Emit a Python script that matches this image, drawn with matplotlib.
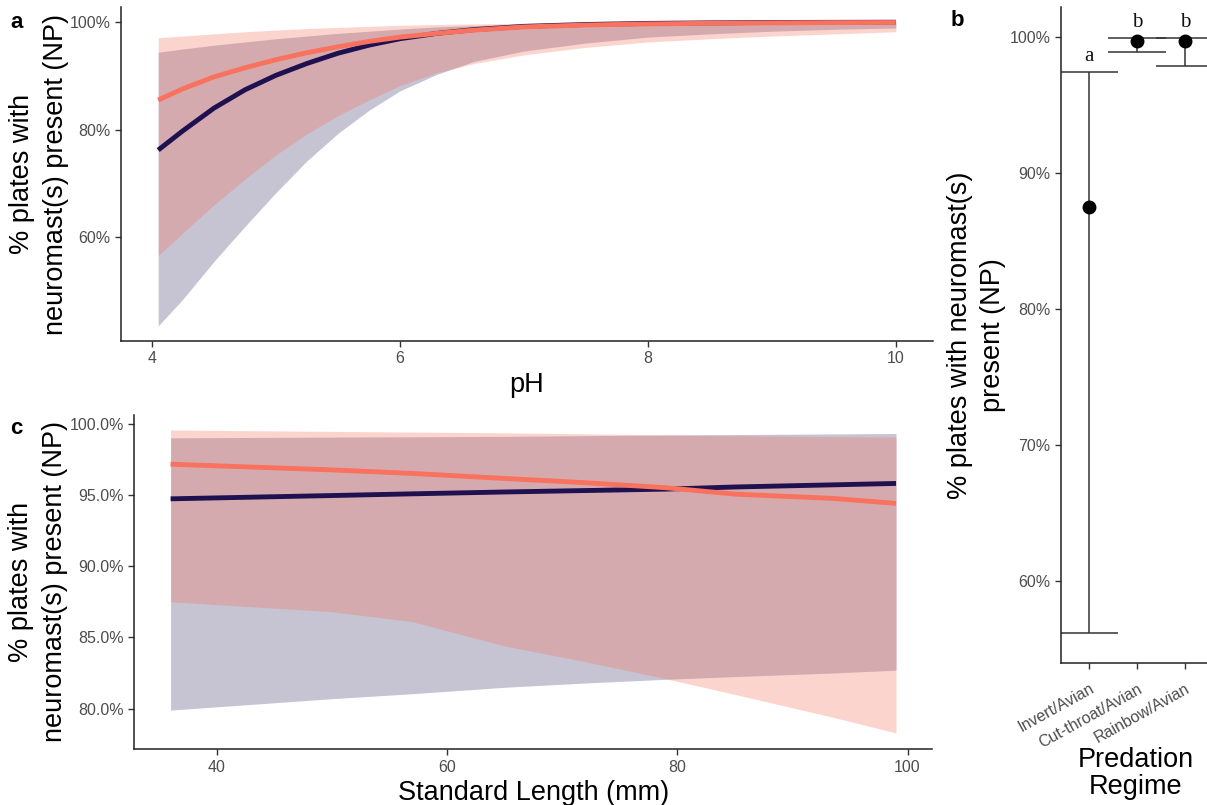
import matplotlib
matplotlib.use("Agg")
import matplotlib.pyplot as plt
from matplotlib.ticker import FuncFormatter
import numpy as np

plt.rcParams['font.family'] = ['Liberation Sans', 'DejaVu Sans']

# ---------------- Panel a data (pH) ----------------
ph = [4.05, 4.25, 4.5, 4.75, 5.0, 5.25, 5.5, 5.75, 6.0, 6.3, 6.6, 7.0, 7.5, 8.0, 8.5, 9.0, 9.5, 10.0]
ph_navy = [76.2, 79.8, 84.0, 87.4, 90.1, 92.3, 94.2, 95.7, 96.9, 97.9, 98.6, 99.2, 99.55, 99.75, 99.85, 99.92, 99.95, 99.97]
ph_navy_lo = [43.5, 48.5, 55.5, 62.0, 68.3, 74.2, 79.3, 83.6, 87.2, 90.3, 92.7, 94.6, 96.1, 97.2, 97.8, 98.3, 98.65, 98.9]
ph_navy_hi = [94.4, 95.0, 95.7, 96.3, 96.9, 97.4, 97.9, 98.3, 98.7, 99.1, 99.35, 99.6, 99.8, 99.9, 99.95, 99.97, 99.98, 99.99]
ph_coral = [85.5, 87.6, 89.8, 91.5, 93.0, 94.3, 95.4, 96.4, 97.2, 97.9, 98.5, 99.1, 99.45, 99.65, 99.78, 99.85, 99.9, 99.92]
ph_coral_lo = [56.6, 60.8, 66.0, 70.8, 75.3, 79.2, 82.6, 85.5, 88.2, 90.6, 92.3, 93.9, 95.3, 96.3, 96.9, 97.4, 97.8, 98.2]
ph_coral_hi = [97.1, 97.4, 97.8, 98.2, 98.5, 98.8, 99.0, 99.2, 99.4, 99.55, 99.65, 99.75, 99.85, 99.9, 99.93, 99.95, 99.96, 99.97]

# ---------------- Panel b data (predation regime) ----------------
regimes = ["Invert/Avian", "Cut-throat/Avian", "Rainbow/Avian"]
regime_est = [87.5, 99.68, 99.68]
regime_lo = [56.2, 98.9, 97.85]
regime_hi = [97.45, 99.93, 99.93]
regime_letters = ["a", "b", "b"]

# ---------------- Panel c data (standard length) ----------------
sl = [36, 50, 57, 65, 72, 79, 85, 93.5, 99]
sl_navy = [94.72, 94.95, 95.07, 95.2, 95.3, 95.4, 95.55, 95.7, 95.8]
sl_navy_lo = [79.9, 80.7, 81.05, 81.5, 81.8, 82.06, 82.25, 82.5, 82.7]
sl_navy_hi = [99.0, 99.05, 99.07, 99.1, 99.15, 99.2, 99.23, 99.27, 99.3]
sl_coral = [97.15, 96.75, 96.5, 96.15, 95.85, 95.5, 95.05, 94.75, 94.4]
sl_coral_lo = [87.5, 86.8, 86.1, 84.4, 83.3, 82.1, 81.0, 79.4, 78.3]
sl_coral_hi = [99.55, 99.45, 99.4, 99.35, 99.28, 99.2, 99.15, 99.08, 99.05]

NAVY = "#1f1150"
CORAL = "#f8725e"
TICK_C = "#4d4d4d"
W, H = 1207, 805

fig = plt.figure(figsize=(W / 100, H / 100), dpi=100)


def rect(l, r, t, b):
    return [l / W, 1 - b / H, (r - l) / W, (b - t) / H]


def style(ax):
    for s in ["top", "right"]:
        ax.spines[s].set_visible(False)
    for s in ["left", "bottom"]:
        ax.spines[s].set_linewidth(1.1)
        ax.spines[s].set_color("#222222")
    ax.tick_params(axis="both", colors="#333333", labelcolor=TICK_C,
                   labelsize=11.5, length=4, width=1.0)


# ---- panel a ----
axa = fig.add_axes(rect(121, 933, 7, 341))
style(axa)
axa.fill_between(ph, ph_navy_lo, ph_navy_hi, color=NAVY, alpha=0.25, lw=0)
axa.fill_between(ph, ph_coral_lo, ph_coral_hi, color=CORAL, alpha=0.3, lw=0)
axa.plot(ph, ph_navy, color=NAVY, lw=3.5, solid_capstyle="butt", solid_joinstyle="round")
axa.plot(ph, ph_coral, color=CORAL, lw=3.5, solid_capstyle="butt", solid_joinstyle="round")
axa.set_xlim(3.75, 10.3)
axa.set_ylim(40.7, 102.8)
axa.set_xticks([4, 6, 8, 10])
axa.set_yticks([60, 80, 100])
axa.yaxis.set_major_formatter(FuncFormatter(lambda v, p: f"{v:.0f}%"))
axa.set_xlabel("pH", fontsize=19.5, labelpad=4)

# ---- panel c ----
axc = fig.add_axes(rect(134.3, 932.3, 415, 749.3))
style(axc)
axc.fill_between(sl, sl_navy_lo, sl_navy_hi, color=NAVY, alpha=0.25, lw=0)
axc.fill_between(sl, sl_coral_lo, sl_coral_hi, color=CORAL, alpha=0.3, lw=0)
axc.plot(sl, sl_navy, color=NAVY, lw=3.5, solid_capstyle="butt", solid_joinstyle="round")
axc.plot(sl, sl_coral, color=CORAL, lw=3.5, solid_capstyle="butt", solid_joinstyle="round")
axc.set_xlim(32.85, 102.15)
axc.set_ylim(77.15, 100.6)
axc.set_xticks([40, 60, 80, 100])
axc.set_yticks([80, 85, 90, 95, 100])
axc.yaxis.set_major_formatter(FuncFormatter(lambda v, p: f"{v:.1f}%"))
axc.set_xlabel("Standard Length (mm)", fontsize=19.5, labelpad=4)

# ---- panel b ----
axb = fig.add_axes(rect(1060.7, 1213.6, 7, 663))
style(axb)
xb = np.arange(1, len(regimes) + 1)
est = np.array(regime_est)
lo = np.array(regime_lo)
hi = np.array(regime_hi)
axb.errorbar(xb, est, yerr=[est - lo, hi - est], fmt="none", ecolor="#333333",
             elinewidth=1.1, capsize=21, capthick=1.1)
axb.plot(xb, est, "o", color="black", markersize=9)
for x, h, lab in zip(xb, hi, regime_letters):
    axb.text(x, h + 0.45, lab, ha="center", va="bottom", fontsize=15,
             family=["Liberation Serif", "DejaVu Serif"], color="#111111")
axb.set_xlim(0.4, 3.6)
axb.set_ylim(54.0, 102.2)
axb.set_yticks([60, 70, 80, 90, 100])
axb.yaxis.set_major_formatter(FuncFormatter(lambda v, p: f"{v:.0f}%"))
axb.set_xticks(xb)
axb.set_xticklabels(regimes, rotation=29, ha="right", rotation_mode="anchor")
axb.tick_params(axis="x", pad=9)

# ---- text ----
def vtext(x, y, s):
    fig.text(x / W, 1 - y / H, s, rotation=90, ha="center", va="center", fontsize=19.5)

vtext(22, 174, "% plates with")
vtext(56, 174, "neuromast(s) present (NP)")
vtext(21, 582, "% plates with")
vtext(55, 582, "neuromast(s) present (NP)")
vtext(960, 335, "% plates with neuromast(s)")
vtext(993, 335, "present (NP)")

fig.text(1136 / W, 1 - 760 / H, "Predation", ha="center", va="center", fontsize=19.5)
fig.text(1136 / W, 1 - 787 / H, "Regime", ha="center", va="center", fontsize=19.5)

fig.text(17 / W, 1 - 22 / H, "a", ha="center", va="center", fontsize=16, fontweight="bold")
fig.text(957 / W, 1 - 21 / H, "b", ha="center", va="center", fontsize=16, fontweight="bold")
fig.text(16 / W, 1 - 428 / H, "c", ha="center", va="center", fontsize=16, fontweight="bold")

fig.savefig("out.png", dpi=100, facecolor="white")
